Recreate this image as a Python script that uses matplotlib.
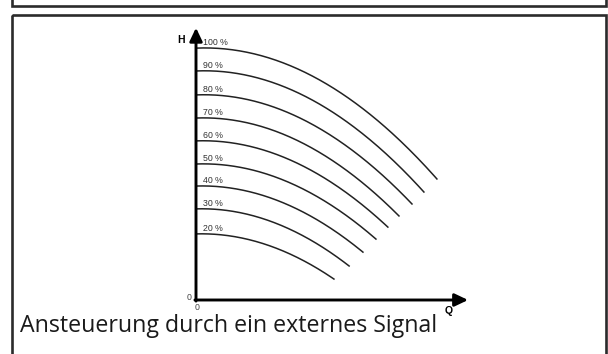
import numpy as np
import matplotlib
matplotlib.use("Agg")
import matplotlib.pyplot as plt
from matplotlib.patches import Rectangle

# speed levels and pump curves (Q, H in % of axis length)
levels = ['100 %', '90 %', '80 %', '70 %', '60 %', '50 %', '40 %', '30 %', '20 %']
h_start = [92.6, 84.2, 75.4, 66.9, 58.5, 50.0, 41.9, 33.5, 24.3]
q_mid = [44.5, 42.0, 39.8, 37.5, 35.4, 33.2, 30.8, 28.2, 25.5]
h_mid = [81.5, 74.0, 66.2, 58.6, 51.2, 43.7, 36.3, 28.7, 20.5]
q_end = [88.9, 84.1, 79.7, 74.9, 70.8, 66.4, 61.6, 56.5, 50.9]
h_end = [44.5, 39.7, 35.3, 30.9, 26.8, 22.4, 17.6, 12.5, 7.7]

caption = 'Ansteuerung durch ein externes Signal'

W, H = 608, 354
fig = plt.figure(figsize=(W / 100, H / 100), dpi=100)

# background: frames and caption in pixel coords
bg = fig.add_axes([0, 0, 1, 1])
bg.set_xlim(0, W)
bg.set_ylim(H, 0)
bg.axis('off')
bg.add_patch(Rectangle((12, -30), 594, 36, fill=False, lw=1.9, ec='#2b2b2b'))
bg.add_patch(Rectangle((12, 15), 594, 380, fill=False, lw=1.9, ec='#2b2b2b'))
bg.text(20, 332, caption, fontsize=16.7, family='Open Sans', color='#1a1a1a',
        va='baseline', ha='left')

# chart axes: origin at px (196, 300)
ax = fig.add_axes([196 / W, (H - 300) / H, 271 / W, 272 / H])
ax.set_xlim(0, 100)
ax.set_ylim(0, 100)
ax.axis('off')

for lab, h0, qm, hm, qe, he in zip(levels, h_start, q_mid, h_mid, q_end, h_end):
    c = np.polyfit([0, qm, qe], [h0, hm, he], 2)
    q = np.linspace(0, qe, 200)
    ax.plot(q, np.polyval(c, q), color='#222222', lw=1.1, clip_on=False)
    ax.text(2.6, h0 + 1.9, lab, fontsize=6.3, family='Liberation Sans',
            color='#333333', ha='left', va='center')

arrow = dict(arrowstyle='-|>,head_length=0.8,head_width=0.38', lw=2.1,
             color='black', shrinkA=0, shrinkB=0, mutation_scale=10)
ax.annotate('', xy=(100.4, 0), xytext=(-0.4, 0), arrowprops=arrow,
            annotation_clip=False)
ax.annotate('', xy=(0, 100.1), xytext=(0, -0.4), arrowprops=arrow,
            annotation_clip=False)

ax.text(-5.6, 95.6, 'H', fontsize=7.5, fontweight='bold', family='Liberation Sans',
        ha='center', va='center', clip_on=False)
ax.text(93.4, -4.0, 'Q', fontsize=7.5, fontweight='bold', family='Liberation Sans',
        ha='center', va='center', clip_on=False)
ax.text(-2.6, 1.1, '0', fontsize=6.3, family='Liberation Sans', color='#444444',
        ha='center', va='center', clip_on=False)
ax.text(0.4, -2.6, '0', fontsize=6.3, family='Liberation Sans', color='#444444',
        ha='center', va='center', clip_on=False)

fig.savefig('out.png', dpi=100)
